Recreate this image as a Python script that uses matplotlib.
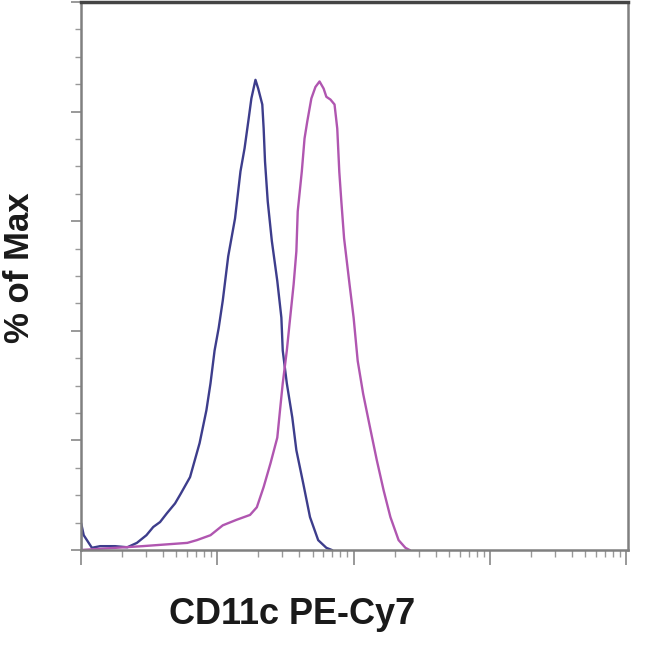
import numpy as np
import matplotlib
matplotlib.use('Agg')
import matplotlib.pyplot as plt
from matplotlib.ticker import LogLocator, MultipleLocator, NullFormatter

# log10 intensitas dan % of Max
blue_log = [2.00, 2.001, 2.02, 2.08, 2.14, 2.25, 2.34, 2.41, 2.48, 2.53, 2.58, 2.63, 2.69,
            2.73, 2.80, 2.87, 2.92, 2.95, 2.98, 3.01, 3.04, 3.08, 3.13, 3.17, 3.20, 3.23,
            3.25, 3.28, 3.30, 3.33, 3.34, 3.35, 3.37, 3.40, 3.44, 3.47, 3.48, 3.51, 3.55,
            3.58, 3.63, 3.68, 3.74, 3.80, 3.84]
blue_pct = [0.0, 4.9, 2.7, 0.4, 0.7, 0.7, 0.5, 1.3, 2.7, 4.2, 5.1, 6.7, 8.5,
            10.2, 13.3, 19.5, 25.5, 30.4, 36.4, 40.5, 45.5, 53.6, 60.5, 69.1, 73.3, 78.7,
            82.4, 85.8, 84.2, 81.3, 76.9, 70.9, 63.6, 56.4, 49.1, 42.4, 36.4, 30.4, 24.2,
            18.2, 12.2, 6.0, 1.8, 0.4, 0.0]

mag_log = [2.00, 2.45, 2.78, 2.85, 2.95, 3.04, 3.14, 3.24, 3.29, 3.34, 3.39, 3.44, 3.46,
           3.48, 3.51, 3.53, 3.56, 3.58, 3.59, 3.62, 3.64, 3.66, 3.69, 3.72, 3.75, 3.78,
           3.80, 3.83, 3.86, 3.88, 3.895, 3.91, 3.93, 3.95, 3.97, 4.00, 4.03, 4.07, 4.12,
           4.17, 4.22, 4.27, 4.33, 4.38, 4.41]
mag_pct = [0.0, 0.7, 1.3, 1.8, 2.7, 4.5, 5.5, 6.4, 7.8, 11.5, 15.8, 20.5, 25.5,
           30.4, 36.4, 41.3, 48.5, 54.5, 61.8, 69.1, 75.1, 78.2, 82.4, 84.5, 85.5, 84.2,
           82.7, 82.2, 81.3, 76.9, 69.0, 63.6, 56.9, 52.7, 48.5, 42.4, 34.5, 28.5, 22.4,
           16.4, 10.9, 6.0, 1.8, 0.4, 0.0]

fig = plt.figure(figsize=(6.5, 6.5), dpi=100)
ax = fig.add_axes([81/650, 1 - 550/650, (628 - 81)/650, (550 - 2)/650])

ax.plot(10 ** np.array(blue_log), blue_pct, color='#3d3d8c', lw=1.7)
ax.plot(10 ** np.array(mag_log), mag_pct, color='#b056b0', lw=1.7)

ax.set_xscale('log')
ax.set_xlim(100, 10 ** 6.013)
ax.set_ylim(0, 100)

ax.xaxis.set_major_locator(LogLocator(base=10, numticks=10))
ax.xaxis.set_minor_locator(LogLocator(base=10, subs=np.arange(2, 10), numticks=20))
ax.xaxis.set_major_formatter(NullFormatter())
ax.xaxis.set_minor_formatter(NullFormatter())
ax.yaxis.set_major_locator(MultipleLocator(20))
ax.yaxis.set_minor_locator(MultipleLocator(5))
ax.yaxis.set_major_formatter(NullFormatter())

ax.tick_params(axis='x', which='major', length=11, width=1.2, color='#888888', direction='out')
ax.tick_params(axis='x', which='minor', length=5, width=1.0, color='#999999', direction='out')
ax.tick_params(axis='y', which='major', length=7, width=1.2, color='#888888', direction='out')
ax.tick_params(axis='y', which='minor', length=4, width=1.0, color='#999999', direction='out')

for side in ['left', 'bottom', 'right']:
    ax.spines[side].set_color('#808080')
    ax.spines[side].set_linewidth(1.8)
ax.spines['top'].set_color('#444444')
ax.spines['top'].set_linewidth(2.5)

fig.text(292/650, 1 - 614/650, 'CD11c PE-Cy7', ha='center', va='center',
         fontsize=26, fontweight='bold', family='Liberation Sans', color='#1a1a1a')
fig.text(20/650, 1 - 268/650, '% of Max', ha='center', va='center', rotation=90,
         fontsize=25, fontweight='bold', family='Liberation Sans', color='#1a1a1a')

fig.savefig('out.png', dpi=100)
